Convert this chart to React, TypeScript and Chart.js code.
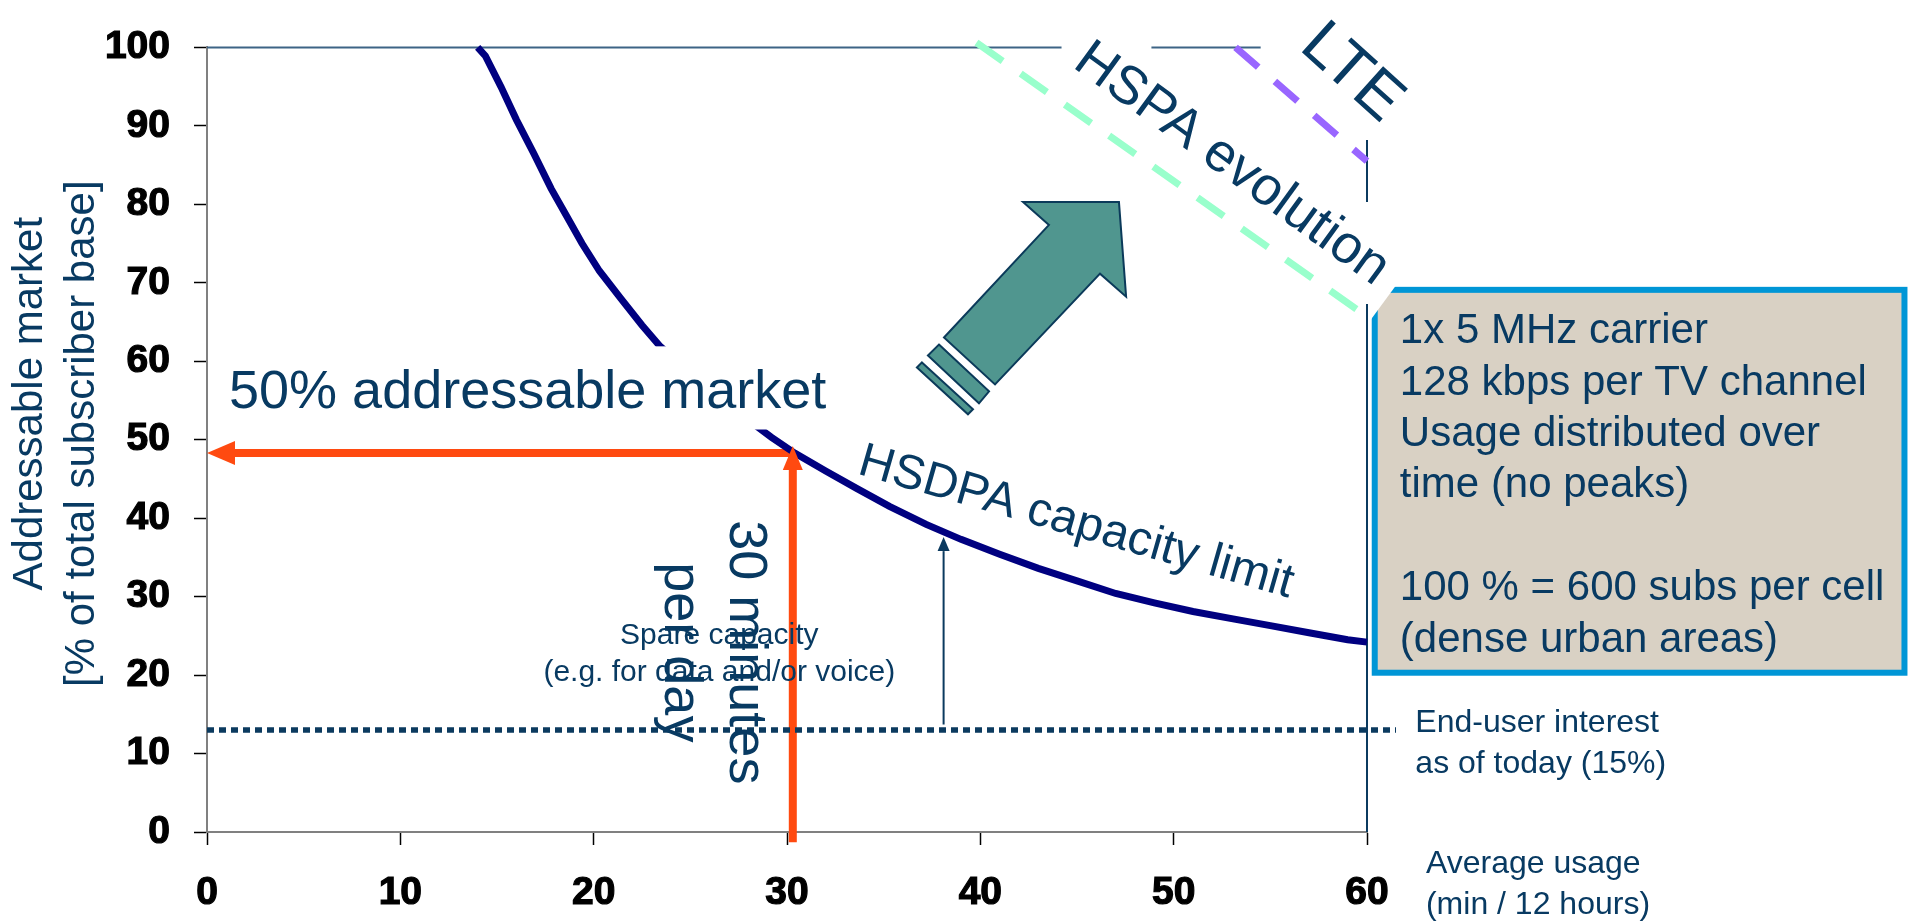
import React, { useEffect, useRef } from "react";
import { Chart, registerables } from "chart.js";

Chart.register(...registerables);

const FONT = '"Liberation Sans", Arial, Helvetica, sans-serif';
const TEXT_BLUE = "#083a62";

// HSDPA capacity limit curve: average usage (min / 12 h) vs addressable market (%)
const CURVE_X = [14, 14.4, 15.2, 16.0, 16.9, 17.8, 18.6, 19.4, 20.3, 21.4, 22.5, 23.4, 25, 26.5, 28, 29.2, 30.4, 32, 33.6, 35.3, 37.2, 39, 41, 43, 45, 47, 49, 51, 53, 55, 57, 59, 60];
const CURVE_Y = [100, 98.9, 95, 90.8, 86.5, 82, 78.5, 75, 71.5, 68, 64.6, 62, 58.5, 55.5, 52.5, 50.3, 48.3, 46, 43.8, 41.5, 39.2, 37.3, 35.4, 33.6, 32, 30.4, 29.2, 28.1, 27.2, 26.3, 25.4, 24.5, 24.2];

// HSPA evolution / LTE capacity limit lines
const HSPA_X = [39.8, 60];
const HSPA_Y = [100.6, 65.7];
const LTE_X = [53.2, 60];
const LTE_Y = [100, 85.5];

// End-user interest as of today
const INTEREST_X = [0, 61.5];
const INTEREST_Y = [13, 13];

// 30 minutes per day -> 50% addressable market
const USAGE_X = [30.3, 30.3];
const USAGE_Y = [-1.3, 47];
const MARKET_X = [30.3, 1.3];
const MARKET_Y = [48.3, 48.3];

// Spare capacity arrow
const SPARE_X = [38.1, 38.1];
const SPARE_Y = [13.7, 35.8];

// Axis ranges / ticks
const X_MIN = 0, X_MAX = 60, X_STEP = 10;
const Y_MIN = 0, Y_MAX = 100, Y_STEP = 10;

const Y_TITLE = ["Addressable market", "[% of total subscriber base]"];
const X_TITLE = ["Average usage", "(min / 12 hours)"];
const INTEREST_LABEL = ["End-user interest", "as of today (15%)"];
const SPARE_LABEL = ["Spare capacity", "(e.g. for data and/or voice)"];
const BOX_LINES = ["1x 5 MHz carrier", "128 kbps per TV channel", "Usage distributed over", "time (no peaks)", "", "100 % = 600 subs per cell", "(dense urban areas)"];

// Evolution block arrow (data units)
const ARROW_HEAD = [[43.55, 77.38], [42.21, 80.3], [47.17, 80.3], [47.54, 68.23], [46.19, 71.16], [40.76, 57.05], [38.12, 63.02]];
const ARROW_STRIPE1 = [[37.86, 62.13], [40.45, 56.16], [39.93, 54.64], [37.29, 60.74]];
const ARROW_STRIPE2 = [[36.98, 59.85], [39.62, 53.88], [39.36, 53.24], [36.72, 59.21]];

const zip = (xs: number[], ys: number[]) => xs.map((x, i) => ({ x, y: ys[i] }));

function lineDs(data: any[], color: string, width: number, dash: number[] = []) {
  return {
    data,
    borderColor: color,
    backgroundColor: color,
    borderWidth: width,
    borderDash: dash,
    borderCapStyle: "butt",
    pointRadius: 0,
    pointHoverRadius: 0,
    showLine: true,
    fill: false,
    tension: 0,
    clip: false,
  };
}

function drawText(ctx: CanvasRenderingContext2D, s: string, x: number, y: number, o: any) {
  ctx.save();
  ctx.translate(x, y);
  if (o.angle) ctx.rotate((o.angle * Math.PI) / 180);
  ctx.font = `${o.weight || "normal"} ${o.size}px ${FONT}`;
  ctx.fillStyle = o.color || TEXT_BLUE;
  ctx.textAlign = o.align || "left";
  ctx.textBaseline = o.baseline || "alphabetic";
  ctx.fillText(s, 0, 0);
  ctx.restore();
}

function arrowHead(ctx: CanvasRenderingContext2D, tx: number, ty: number, dx: number, dy: number, len: number, half: number, color: string) {
  const bx = tx - dx * len, by = ty - dy * len;
  const nx = -dy, ny = dx;
  ctx.beginPath();
  ctx.moveTo(tx, ty);
  ctx.lineTo(bx + nx * half, by + ny * half);
  ctx.lineTo(bx - nx * half, by - ny * half);
  ctx.closePath();
  ctx.fillStyle = color;
  ctx.fill();
}

const annotations = {
  id: "annotations",
  beforeDatasetsDraw(chart: any) {
    const { ctx, scales } = chart;
    const X = (v: number) => scales.x.getPixelForValue(v);
    const Y = (v: number) => scales.y.getPixelForValue(v);
    ctx.save();
    const seg = (x1: number, y1: number, x2: number, y2: number) => {
      ctx.beginPath();
      ctx.moveTo(x1, y1);
      ctx.lineTo(x2, y2);
      ctx.stroke();
    };
    // plot frame (top and right), interrupted by labels
    ctx.lineWidth = 2;
    ctx.strokeStyle = "#3d6485";
    seg(X(0), Y(100), X(44.2), Y(100));
    seg(X(48.85), Y(100), X(54.5), Y(100));
    ctx.strokeStyle = "#0b3a5f";
    seg(X(60), Y(88.2), X(60), Y(80.3));
    seg(X(60), Y(67.3), X(60), Y(0));

    // info box
    const bl = X(60.4), bt = Y(69.1), br = X(87.8), bb = Y(20.3);
    ctx.fillStyle = "#d9d1c4";
    ctx.fillRect(bl, bt, br - bl, bb - bt);
    ctx.lineWidth = 6;
    ctx.strokeStyle = "#0096d6";
    ctx.strokeRect(bl, bt, br - bl, bb - bt);
    // white corner cut
    ctx.fillStyle = "#ffffff";
    ctx.beginPath();
    ctx.moveTo(bl - 4, bt - 4);
    ctx.lineTo(bl + 21, bt - 4);
    ctx.lineTo(bl - 4, bt + 30);
    ctx.closePath();
    ctx.fill();
    ctx.restore();
  },
  afterDatasetsDraw(chart: any) {
    const { ctx, scales, chartArea } = chart;
    const X = (v: number) => scales.x.getPixelForValue(v);
    const Y = (v: number) => scales.y.getPixelForValue(v);
    ctx.save();

    // label background hiding part of the curve
    ctx.fillStyle = "#ffffff";
    ctx.fillRect(X(0.4), Y(61.9), X(32.2) - X(0.4), Y(51.3) - Y(61.9));
    drawText(ctx, "50% addressable market", X(1.14), Y(54.1), { size: 54 });

    // orange arrowheads
    const orange = "#ff4a10";
    arrowHead(ctx, X(0), Y(48.3), -1, 0, 28, 12, orange);
    arrowHead(ctx, X(30.3), Y(49.2), 0, -1, 24, 10, orange);
    // spare capacity arrowhead
    arrowHead(ctx, X(38.1), Y(37.6), 0, -1, 14, 6, "#0b3a5f");

    // block arrow
    const poly = (pts: number[][]) => {
      ctx.beginPath();
      pts.forEach((p, i) => (i ? ctx.lineTo(X(p[0]), Y(p[1])) : ctx.moveTo(X(p[0]), Y(p[1]))));
      ctx.closePath();
      ctx.fillStyle = "#50968f";
      ctx.fill();
      ctx.lineWidth = 2;
      ctx.strokeStyle = "#0b3a5a";
      ctx.stroke();
    };
    poly(ARROW_HEAD);
    poly(ARROW_STRIPE1);
    poly(ARROW_STRIPE2);

    // rotated labels
    drawText(ctx, "HSDPA capacity limit", X(44.95), Y(39.4), { size: 48, angle: 16, align: "center", baseline: "middle" });
    drawText(ctx, "HSPA evolution", X(53.0), Y(85.1), { size: 54, angle: 36, align: "center", baseline: "middle" });
    drawText(ctx, "LTE", X(59.2), Y(96.7), { size: 64, angle: 42, align: "center", baseline: "middle" });
    drawText(ctx, "30 minutes", X(27.05), Y(22.9), { size: 54, angle: 90, align: "center" });
    drawText(ctx, "per day", X(23.7), Y(22.9), { size: 54, angle: 90, align: "center" });

    // spare capacity
    drawText(ctx, SPARE_LABEL[0], X(26.5), Y(24.0), { size: 30, align: "center" });
    drawText(ctx, SPARE_LABEL[1], X(26.5), Y(19.2), { size: 30, align: "center" });

    // interest label
    drawText(ctx, INTEREST_LABEL[0], X(62.5), Y(12.8), { size: 32 });
    drawText(ctx, INTEREST_LABEL[1], X(62.5), Y(7.5), { size: 32 });

    // x title
    drawText(ctx, X_TITLE[0], X(63.05), Y(-5.2), { size: 32 });
    drawText(ctx, X_TITLE[1], X(63.05), Y(-10.4), { size: 32 });

    // box text
    const b0 = Y(62.3);
    BOX_LINES.forEach((s, i) => {
      if (s) drawText(ctx, s, X(61.7), b0 + i * 51.4, { size: 42 });
    });

    // y title
    const cy = (chartArea.top + chartArea.bottom) / 2 - 6;
    drawText(ctx, Y_TITLE[0], 42, cy - 30, { size: 42, angle: -90, align: "center" });
    drawText(ctx, Y_TITLE[1], 94, cy, { size: 42, angle: -90, align: "center" });

    ctx.restore();
  },
};

export default function App() {
  const ref = useRef<HTMLCanvasElement>(null);
  useEffect(() => {
    document.body.style.margin = "0";
    document.body.style.overflow = "hidden";
    const tickFont = { family: FONT, size: 39, weight: "bold" };
    const chart = new Chart(ref.current as HTMLCanvasElement, {
      type: "scatter",
      data: {
        datasets: [
          lineDs(zip(INTEREST_X, INTEREST_Y), "#0b3a5f", 5.5, [7, 5]),
          lineDs(zip(SPARE_X, SPARE_Y), "#0b3a5f", 2),
          lineDs(zip(CURVE_X, CURVE_Y), "#000080", 7),
          lineDs(zip(HSPA_X, HSPA_Y), "#99ffcc", 7, [32, 22]),
          lineDs(zip(LTE_X, LTE_Y), "#9966ff", 7, [30, 22]),
          lineDs(zip(MARKET_X, MARKET_Y), "#ff4a10", 8),
          lineDs(zip(USAGE_X, USAGE_Y), "#ff4a10", 8),
        ] as any,
      },
      options: {
        responsive: false,
        animation: false,
        devicePixelRatio: 1,
        layout: { padding: { left: 0, top: 45, right: 547, bottom: 0 } },
        plugins: { legend: { display: false }, tooltip: { enabled: false }, title: { display: false } },
        events: [],
        scales: {
          x: {
            type: "linear",
            min: X_MIN,
            max: X_MAX,
            afterFit: (s: any) => { s.height = 92; },
            ticks: { stepSize: X_STEP, autoSkip: false, maxRotation: 0, padding: 25, color: "#000", textStrokeColor: "#000", textStrokeWidth: 1.2, font: tickFont },
            grid: { drawOnChartArea: false, drawTicks: true, tickLength: 13, tickColor: "#000", tickWidth: 1.5 },
            border: { color: "#808080", width: 2 },
          },
          y: {
            type: "linear",
            min: Y_MIN,
            max: Y_MAX,
            afterFit: (s: any) => { s.width = 207; },
            ticks: { stepSize: Y_STEP, autoSkip: false, padding: 24, color: "#000", textStrokeColor: "#000", textStrokeWidth: 1.2, font: tickFont },
            grid: { drawOnChartArea: false, drawTicks: true, tickLength: 13, tickColor: "#000", tickWidth: 1.5 },
            border: { color: "#808080", width: 2 },
          },
        },
      } as any,
      plugins: [annotations],
    });
    return () => chart.destroy();
  }, []);
  return <canvas ref={ref} width={1914} height={924} style={{ display: "block", width: "1914px", height: "924px" }} />;
}
